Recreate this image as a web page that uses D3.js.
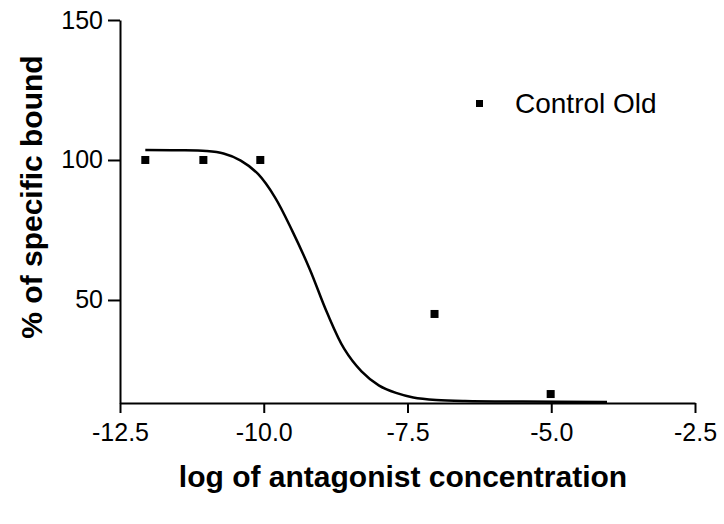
<!DOCTYPE html>
<html>
<head>
<meta charset="utf-8">
<script src="https://cdn.jsdelivr.net/npm/d3@7"></script>
<style>
  body { margin: 0; background: #fff; }
  text { font-family: "Liberation Sans", Arial, Helvetica, sans-serif; fill: #000; }
  .tick line, .domain { stroke: #000; stroke-width: 2; }
</style>
</head>
<body>
<div id="chart"></div>
<script>
var svgWidth = 724;
var svgHeight = 524;

var margin = { top: 20, right: 29, bottom: 121, left: 120 };
var width = svgWidth - margin.left - margin.right;
var height = svgHeight - margin.top - margin.bottom;

// measured points (log conc, % bound)
var pointX = [-12.06, -11.05, -10.06, -7.03, -5.01];
var pointY = [100, 100, 100, 45, 16.4];

// fitted curve
var curveX = [-12.06, -11.5, -11.0, -10.7, -10.4, -10.1, -9.8, -9.5, -9.2, -8.9, -8.6, -8.3, -8.0, -7.7, -7.4, -7.0, -6.5, -5.5, -4.03];
var curveY = [103.6, 103.5, 103.2, 102.3, 99.8, 95.0, 86.5, 74.5, 61.0, 45.5, 32.5, 24.5, 19.5, 16.8, 15.2, 14.3, 13.9, 13.7, 13.6];

var xTicks = [-12.5, -10.0, -7.5, -5.0, -2.5];
var yTicks = [50, 100, 150];
var seriesName = "Control Old";

var svg = d3.select("#chart")
  .append("svg")
  .attr("width", svgWidth)
  .attr("height", svgHeight);

var chartGroup = svg.append("g")
  .attr("transform", `translate(${margin.left}, ${margin.top})`);

var x = d3.scaleLinear().domain([-12.5, -2.5]).range([0, width]);
var y = d3.scaleLinear().domain([13.2, 150]).range([height, 0]);

var fmt = d3.format(".1f");
var xAxis = d3.axisBottom(x).tickValues(xTicks)
  .tickFormat(function (d) { return fmt(d).replace("\u2212", "-"); })
  .tickSize(10).tickSizeOuter(0).tickPadding(10);
var yAxis = d3.axisLeft(y).tickValues(yTicks)
  .tickSize(12).tickSizeOuter(0).tickPadding(5);

var gx = chartGroup.append("g")
  .attr("transform", `translate(0, ${height})`)
  .call(xAxis);
gx.selectAll("text").attr("font-size", "25px").attr("font-family", null);

var gy = chartGroup.append("g").call(yAxis);
gy.selectAll("text").attr("font-size", "25px").attr("font-family", null);

// curve
var line = d3.line()
  .x(function (d) { return x(d[0]); })
  .y(function (d) { return y(d[1]); })
  .curve(d3.curveCatmullRom.alpha(0.5));

chartGroup.append("path")
  .datum(d3.zip(curveX, curveY))
  .attr("d", line)
  .attr("fill", "none")
  .attr("stroke", "#000")
  .attr("stroke-width", 2.5);

// points
var sq = 8;
chartGroup.selectAll("rect.pt")
  .data(d3.zip(pointX, pointY))
  .enter()
  .append("rect")
  .attr("class", "pt")
  .attr("x", function (d) { return x(d[0]) - sq / 2; })
  .attr("y", function (d) { return y(d[1]) - sq / 2; })
  .attr("width", sq)
  .attr("height", sq)
  .attr("fill", "#000");

// legend
svg.append("rect")
  .attr("x", 476).attr("y", 100)
  .attr("width", 7).attr("height", 7)
  .attr("fill", "#000");
svg.append("text")
  .attr("x", 515).attr("y", 113)
  .attr("font-size", "28px")
  .text(seriesName);

// axis labels
svg.append("text")
  .attr("transform", "translate(42, 197) rotate(-90)")
  .attr("text-anchor", "middle")
  .attr("font-size", "30px")
  .attr("font-weight", "bold")
  .text("% of specific bound");

svg.append("text")
  .attr("x", 403).attr("y", 487)
  .attr("text-anchor", "middle")
  .attr("font-size", "30px")
  .attr("font-weight", "bold")
  .text("log of antagonist concentration");
</script>
</body>
</html>
